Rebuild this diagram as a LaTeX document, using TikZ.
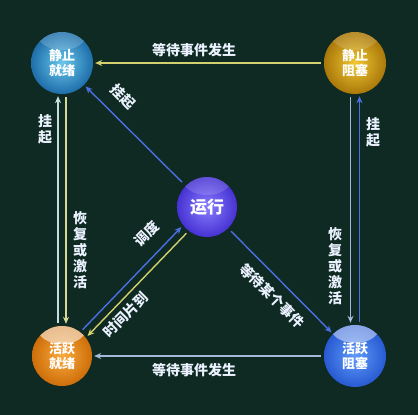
\documentclass[tikz,border=0pt]{standalone}
\usepackage{fontspec}
\newfontfamily\cjk{Noto Sans CJK SC}
\usetikzlibrary{arrows.meta,calc}
\definecolor{bg}{RGB}{14,42,34}
\definecolor{labelc}{RGB}{235,242,255}
\definecolor{yel}{RGB}{212,208,110}
\definecolor{blu}{RGB}{75,112,228}
\definecolor{paley}{RGB}{215,215,150}
\definecolor{palec}{RGB}{200,222,222}
\definecolor{paleb}{RGB}{165,185,220}
\definecolor{srin}{RGB}{105,200,235}
\definecolor{srout}{RGB}{30,110,170}
\definecolor{sbin}{RGB}{240,200,50}
\definecolor{sbout}{RGB}{170,120,10}
\definecolor{runin}{RGB}{135,125,255}
\definecolor{runout}{RGB}{70,50,210}
\definecolor{arin}{RGB}{250,170,60}
\definecolor{arout}{RGB}{205,110,10}
\definecolor{abin}{RGB}{95,155,250}
\definecolor{about}{RGB}{40,90,210}
\begin{document}
\begin{tikzpicture}[x=1pt,y=1pt,
  ball/.style={circle, minimum size=62pt, inner sep=0pt, align=center, text=white,
    font=\cjk\bfseries\fontsize{13}{15}\selectfont},
  gloss/.style={path picture={\fill[white,opacity=#1] ($(path picture bounding box.north)+(0,-3pt)$) ellipse (24pt and 15pt);}},
  lbl/.style={text=labelc, font=\cjk\bfseries\fontsize{14}{16}\selectfont, align=center, inner sep=0pt},
  arr/.style={line width=1.4pt, -{Stealth[length=7pt,width=6pt]}, shorten <=3pt, shorten >=2pt},
]
\fill[bg] (0,0) rectangle (418,415);
\useasboundingbox (0,0) rectangle (418,415);

% nodes
\node[ball, inner color=srin, outer color=srout, gloss=0.18] (SR) at (62,352) {静止\\就绪};
\node[ball, inner color=sbin, outer color=sbout, gloss=0.15] (SB) at (355,352) {静止\\阻塞};
\node[ball, minimum size=60pt, inner color=runin, outer color=runout, gloss=0.15,
      font=\cjk\bfseries\fontsize{17}{19}\selectfont] (RUN) at (207,208) {运行};
\node[ball, minimum size=60pt, inner color=arin, outer color=arout, gloss=0.55] (AR) at (62,59) {活跃\\就绪};
\node[ball, inner color=abin, outer color=about, gloss=0.45] (AB) at (355,59) {活跃\\阻塞};

% horizontal connectors
\draw[arr, yel] (SB) -- (SR);
\draw[arr, paleb] (AB) -- (AR);

% left vertical pair
\draw[arr, palec] ([xshift=-4pt]AR.north) -- ([xshift=-4pt]SR.south);
\draw[arr, paley] ([xshift=4pt]SR.south) -- ([xshift=4pt]AR.north);
% right vertical pair
\draw[arr, paleb] ([xshift=-4.5pt]SB.south) -- ([xshift=-4.5pt]AB.north);
\draw[arr, blu] ([xshift=4.5pt]AB.north) -- ([xshift=4.5pt]SB.south);

% diagonals
\draw[arr, blu, shorten <=5pt] (RUN) -- (SR);
\draw[arr, blu, shorten <=4pt] (RUN) -- (AB);
\draw[arr, blu] ($(AR.45)+(-2.8,2.8)$) -- ($(RUN.225)+(-2.8,2.8)$);
\draw[arr, yel] ($(RUN.225)+(2.8,-2.8)$) -- ($(AR.45)+(2.8,-2.8)$);

% labels
\node[lbl] (l1) at (194,365) {等待事件发生};
\node[lbl] (l2) at (194,45) {等待事件发生};
\node[lbl] (l3) at (45,286) {挂\\起};
\node[lbl] (l4) at (80,165) {恢\\复\\或\\激\\活};
\node[lbl] (l5) at (373,283) {挂\\起};
\node[lbl] (l6) at (335,149) {恢\\复\\或\\激\\活};
\node[lbl, rotate=-45] (l7) at (123,318) {挂起};
\node[lbl, rotate=45] (l8) at (147,181) {调度};
\node[lbl, rotate=45] (l9) at (126,100) {时间片到};
\node[lbl, rotate=-45] (l10) at (272,119) {等待某个事件};
\end{tikzpicture}
\end{document}
